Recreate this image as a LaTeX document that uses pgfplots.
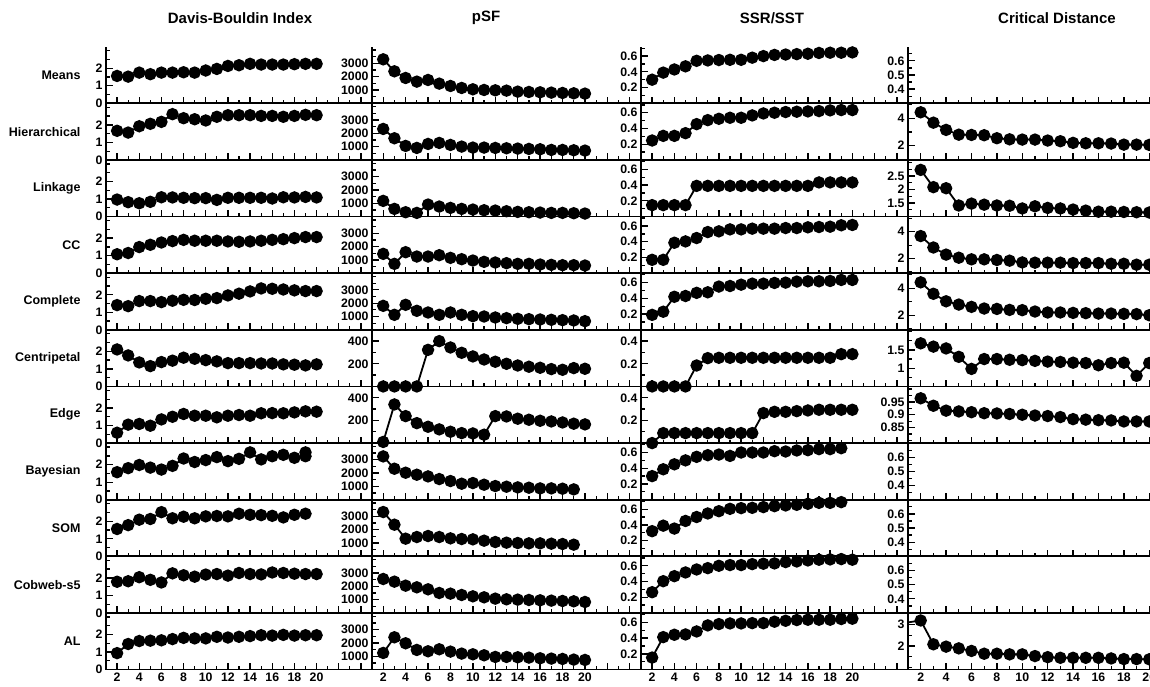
\documentclass[border=0pt]{standalone}
\usepackage{fontspec}
\setmainfont{Liberation Sans}
\usepackage{pgfplots}
\pgfplotsset{compat=1.18}
\pgfplotsset{
 base/.style={scale only axis, anchor=south west, height=56.63pt, xmin=1, xmax=25,
  axis x line*=bottom, axis y line*=left,
  axis line style={line width=1.7pt,-},
  tick align=inside,
  xtick={2,4,...,24}, minor xtick={1,3,...,25},
  xticklabel={\hbox{}},
  major tick length=6.5pt, minor tick length=3.5pt,
  every tick/.style={black,line width=1.3pt},
  tick label style={font=\fontsize{12.3}{13}\selectfont\bfseries},
  clip mode=individual,
  /pgf/number format/assume math mode=true,
 },
 bottomrow/.style={xticklabel={\ifdim\tick pt>21pt\else\pgfmathprintnumber{\tick}\fi}},
 db/.style={ymin=0,ymax=3.23,ytick={0,1,2},yticklabels={0,1,2},minor ytick={0.5,1.5,2.5,3}},
 psf/.style={ymin=0,ymax=4250,ytick={1000,2000,3000},yticklabels={1000,2000,3000},minor ytick={500,1500,2500,3500,4000}},
 psfs/.style={ymin=0,ymax=500,ytick={200,400},yticklabels={200,400},minor ytick={100,300}},
 ssr/.style={ymin=0,ymax=0.72,ytick={0.2,0.4,0.6},yticklabels={0.2,0.4,0.6},minor ytick={0.1,0.3,0.5,0.7}},
 ssrs/.style={ymin=0,ymax=0.5,ytick={0.2,0.4},yticklabels={0.2,0.4},minor ytick={0.1,0.3}},
 cde/.style={xmax=20.06,ymin=0.3,ymax=0.7,ytick={0.4,0.5,0.6},yticklabels={0.4,0.5,0.6},minor ytick={0.35,0.45,0.55,0.65}},
 cdb/.style={xmax=20.06,ymin=0.95,ymax=5.1,ytick={2,4},yticklabels={2,4},minor ytick={1,3,5}},
}
\newcommand\panel[5]{%
\begin{axis}[base, at={(#1pt,#3pt)}, width=#2pt, #4]
\addplot[black, line width=1.8pt, mark=*, mark size=5.3pt] coordinates {#5};
\end{axis}}
\newcommand\emptypanel[3]{%
\begin{axis}[base, at={(908pt,#1pt)}, width=242pt, cde, #2]
#3
\end{axis}}
\begin{document}
\begin{tikzpicture}
\useasboundingbox (0,0) rectangle (1150pt,687pt);
% titles
\node[font=\fontsize{15}{18}\selectfont\bfseries] at (240pt,669pt) {Davis-Bouldin Index};
\node[font=\fontsize{15}{18}\selectfont\bfseries] at (486pt,669pt) {pSF};
\node[font=\fontsize{15}{18}\selectfont\bfseries] at (772pt,669pt) {SSR/SST};
\node[font=\fontsize{15}{18}\selectfont\bfseries] at (1057pt,669pt) {Critical Distance};
% row labels
\foreach \lab/\yb in {Means/583.7,Hierarchical/527.07,Linkage/470.44,CC/413.81,Complete/357.18,Centripetal/300.55,Edge/243.92,Bayesian/187.29,SOM/130.66,Cobweb-s5/74.03,AL/17.4}
  \node[anchor=east,font=\fontsize{12.5}{14}\selectfont\bfseries] at (84pt,\yb pt+28.3pt) {\lab};

% ===== Row 1: Means =====
\panel{106}{266}{583.7}{db}{(2,1.56)(3,1.52)(4,1.75)(5,1.66)(6,1.75)(7,1.75)(8,1.77)(9,1.75)(10,1.87)(11,1.96)(12,2.13)(13,2.17)(14,2.25)(15,2.21)(16,2.21)(17,2.21)(18,2.23)(19,2.25)(20,2.25)}
\panel{372}{269}{583.7}{psf}{(2,3300)(3,2400)(4,1900)(5,1625)(6,1750)(7,1475)(8,1300)(9,1150)(10,1050)(11,1000)(12,975)(13,950)(14,875)(15,850)(16,825)(17,800)(18,775)(19,750)(20,725)}
\panel{641}{267}{583.7}{ssr}{(2,0.30)(3,0.39)(4,0.43)(5,0.47)(6,0.54)(7,0.545)(8,0.55)(9,0.553)(10,0.553)(11,0.58)(12,0.60)(13,0.615)(14,0.62)(15,0.625)(16,0.63)(17,0.64)(18,0.643)(19,0.643)(20,0.647)}
\emptypanel{583.7}{}{}

% ===== Row 2: Hierarchical =====
\panel{106}{266}{527.07}{db}{(2,1.66)(3,1.56)(4,1.92)(5,2.06)(6,2.17)(7,2.61)(8,2.38)(9,2.32)(10,2.25)(11,2.46)(12,2.55)(13,2.55)(14,2.55)(15,2.51)(16,2.51)(17,2.46)(18,2.51)(19,2.57)(20,2.55)}
\panel{372}{269}{527.07}{psf}{(2,2325)(3,1625)(4,1050)(5,900)(6,1200)(7,1275)(8,1125)(9,1000)(10,925)(11,925)(12,900)(13,875)(14,850)(15,825)(16,800)(17,750)(18,750)(19,725)(20,700)}
\panel{641}{267}{527.07}{ssr}{(2,0.247)(3,0.306)(4,0.306)(5,0.34)(6,0.455)(7,0.506)(8,0.523)(9,0.536)(10,0.536)(11,0.566)(12,0.591)(13,0.60)(14,0.609)(15,0.613)(16,0.617)(17,0.621)(18,0.63)(19,0.634)(20,0.634)}
\panel{908}{242}{527.07}{cdb}{(2,4.44)(3,3.68)(4,3.15)(5,2.80)(6,2.78)(7,2.76)(8,2.54)(9,2.46)(10,2.44)(11,2.44)(12,2.37)(13,2.32)(14,2.20)(15,2.17)(16,2.17)(17,2.15)(18,2.07)(19,2.07)(20,2.05)}

% ===== Row 3: Linkage =====
\panel{106}{266}{470.44}{db}{(2,0.97)(3,0.82)(4,0.76)(5,0.84)(6,1.10)(7,1.09)(8,1.07)(9,1.05)(10,1.05)(11,0.95)(12,1.07)(13,1.07)(14,1.07)(15,1.07)(16,1.03)(17,1.10)(18,1.09)(19,1.12)(20,1.09)}
\panel{372}{269}{470.44}{psf}{(2,1175)(3,575)(4,325)(5,275)(6,900)(7,750)(8,650)(9,575)(10,525)(11,475)(12,450)(13,400)(14,350)(15,325)(16,300)(17,275)(18,275)(19,250)(20,225)}
\panel{641}{267}{470.44}{ssr}{(2,0.145)(3,0.145)(4,0.145)(5,0.145)(6,0.39)(7,0.39)(8,0.39)(9,0.39)(10,0.39)(11,0.39)(12,0.39)(13,0.39)(14,0.39)(15,0.39)(16,0.39)(17,0.434)(18,0.434)(19,0.434)(20,0.434)}
\panel{908}{242}{470.44}{xmax=20.06,ymin=1.0,ymax=3.1,ytick={1.5,2,2.5},yticklabels={1.5,2,2.5},minor ytick={1.25,1.75,2.25,2.75,3}}{(2,2.73)(3,2.09)(4,2.05)(5,1.41)(6,1.48)(7,1.44)(8,1.41)(9,1.40)(10,1.30)(11,1.38)(12,1.32)(13,1.30)(14,1.26)(15,1.22)(16,1.18)(17,1.18)(18,1.17)(19,1.16)(20,1.15)}

% ===== Row 4: CC =====
\panel{106}{266}{413.81}{db}{(2,1.08)(3,1.15)(4,1.49)(5,1.62)(6,1.75)(7,1.83)(8,1.90)(9,1.85)(10,1.85)(11,1.85)(12,1.81)(13,1.79)(14,1.81)(15,1.85)(16,1.90)(17,1.94)(18,2.00)(19,2.06)(20,2.06)}
\panel{372}{269}{413.81}{psf}{(2,1450)(3,700)(4,1575)(5,1250)(6,1250)(7,1350)(8,1150)(9,1050)(10,950)(11,850)(12,800)(13,750)(14,700)(15,700)(16,650)(17,625)(18,600)(19,600)(20,575)}
\panel{641}{267}{413.81}{ssr}{(2,0.17)(3,0.17)(4,0.387)(5,0.404)(6,0.447)(7,0.523)(8,0.532)(9,0.557)(10,0.557)(11,0.566)(12,0.566)(13,0.566)(14,0.574)(15,0.574)(16,0.583)(17,0.587)(18,0.591)(19,0.609)(20,0.613)}
\panel{908}{242}{413.81}{cdb,ymin=0.92,ymax=5.13}{(2,3.68)(3,2.83)(4,2.30)(5,2.07)(6,1.95)(7,1.95)(8,1.90)(9,1.85)(10,1.72)(11,1.70)(12,1.70)(13,1.70)(14,1.67)(15,1.67)(16,1.67)(17,1.62)(18,1.62)(19,1.55)(20,1.55)}

% ===== Row 5: Complete =====
\panel{106}{266}{357.18}{db}{(2,1.41)(3,1.35)(4,1.64)(5,1.64)(6,1.58)(7,1.66)(8,1.71)(9,1.70)(10,1.77)(11,1.81)(12,1.96)(13,2.06)(14,2.19)(15,2.36)(16,2.34)(17,2.30)(18,2.25)(19,2.21)(20,2.21)}
\panel{372}{269}{357.18}{psf}{(2,1800)(3,1125)(4,1875)(5,1425)(6,1300)(7,1125)(8,1300)(9,1125)(10,1025)(11,1000)(12,925)(13,875)(14,825)(15,800)(16,775)(17,750)(18,725)(19,700)(20,650)}
\panel{641}{267}{357.18}{ssr}{(2,0.19)(3,0.23)(4,0.42)(5,0.43)(6,0.47)(7,0.477)(8,0.55)(9,0.557)(10,0.574)(11,0.587)(12,0.587)(13,0.596)(14,0.60)(15,0.613)(16,0.617)(17,0.617)(18,0.621)(19,0.634)(20,0.634)}
\panel{908}{242}{357.18}{cdb}{(2,4.43)(3,3.59)(4,3.04)(5,2.80)(6,2.63)(7,2.51)(8,2.48)(9,2.41)(10,2.39)(11,2.29)(12,2.22)(13,2.22)(14,2.19)(15,2.17)(16,2.14)(17,2.14)(18,2.12)(19,2.10)(20,2.02)}

% ===== Row 6: Centripetal =====
\panel{106}{266}{300.55}{db}{(2,2.11)(3,1.77)(4,1.37)(5,1.16)(6,1.39)(7,1.47)(8,1.64)(9,1.58)(10,1.50)(11,1.43)(12,1.33)(13,1.33)(14,1.33)(15,1.31)(16,1.31)(17,1.26)(18,1.24)(19,1.20)(20,1.26)}
\panel{372}{269}{300.55}{psfs}{(2,0)(3,0)(4,0)(5,0)(6,323)(7,400)(8,344)(9,297)(10,265)(11,238)(12,218)(13,200)(14,185)(15,174)(16,165)(17,153)(18,147)(19,162)(20,156)}
\panel{641}{267}{300.55}{ssrs}{(2,0)(3,0)(4,0)(5,0)(6,0.185)(7,0.25)(8,0.253)(9,0.253)(10,0.253)(11,0.253)(12,0.253)(13,0.253)(14,0.253)(15,0.253)(16,0.253)(17,0.253)(18,0.253)(19,0.285)(20,0.285)}
\panel{908}{242}{300.55}{xmax=20.06,ymin=0.5,ymax=2.05,ytick={1,1.5},yticklabels={1,1.5},minor ytick={0.5,0.75,1.25,1.75,2}}{(2,1.68)(3,1.59)(4,1.54)(5,1.31)(6,0.98)(7,1.25)(8,1.25)(9,1.23)(10,1.22)(11,1.20)(12,1.18)(13,1.17)(14,1.15)(15,1.14)(16,1.08)(17,1.14)(18,1.15)(19,0.79)(20,1.14)}

% ===== Row 7: Edge =====
\panel{106}{266}{243.92}{db}{(2,0.59)(3,1.05)(4,1.09)(5,0.99)(6,1.35)(7,1.50)(8,1.66)(9,1.56)(10,1.56)(11,1.47)(12,1.56)(13,1.60)(14,1.56)(15,1.70)(16,1.71)(17,1.70)(18,1.75)(19,1.81)(20,1.79)}
\panel{372}{269}{243.92}{psfs}{(2,10)(3,341)(4,238)(5,176)(6,144)(7,121)(8,100)(9,88)(10,85)(11,74)(12,238)(13,235)(14,215)(15,206)(16,197)(17,191)(18,182)(19,171)(20,165)}
\panel{641}{267}{243.92}{ssrs}{(2,0.0)(3,0.088)(4,0.088)(5,0.088)(6,0.088)(7,0.088)(8,0.088)(9,0.088)(10,0.088)(11,0.088)(12,0.265)(13,0.276)(14,0.276)(15,0.282)(16,0.288)(17,0.294)(18,0.294)(19,0.294)(20,0.294)}
\panel{908}{242}{243.92}{xmax=20.06,ymin=0.79,ymax=1.01,ytick={0.85,0.9,0.95},yticklabels={0.85,0.9,0.95},minor ytick={0.8,0.825,0.875,0.925,0.975,1.0}}{(2,0.964)(3,0.935)(4,0.916)(5,0.913)(6,0.910)(7,0.906)(8,0.905)(9,0.903)(10,0.900)(11,0.897)(12,0.895)(13,0.891)(14,0.883)(15,0.881)(16,0.879)(17,0.878)(18,0.874)(19,0.874)(20,0.874)}

% ===== Row 8: Bayesian =====
\panel{106}{266}{187.29}{db}{(2,1.57)(3,1.80)(4,1.98)(5,1.83)(6,1.72)(7,1.93)(8,2.35)(9,2.15)(10,2.26)(11,2.43)(12,2.20)(13,2.33)(14,2.70)(15,2.30)(16,2.48)(17,2.56)(18,2.39)(19,2.48)(19,2.70)}
\panel{372}{269}{187.29}{psf}{(2,3250)(3,2325)(4,2025)(5,1875)(6,1750)(7,1550)(8,1400)(9,1200)(10,1250)(11,1125)(12,1025)(13,975)(14,925)(15,900)(16,850)(17,850)(18,825)(19,775)}
\panel{641}{267}{187.29}{ssr}{(2,0.30)(3,0.387)(4,0.45)(5,0.50)(6,0.545)(7,0.566)(8,0.574)(9,0.557)(10,0.60)(11,0.60)(12,0.60)(13,0.617)(14,0.613)(15,0.626)(16,0.63)(17,0.643)(18,0.643)(19,0.655)}
\emptypanel{187.29}{}{}

% ===== Row 9: SOM =====
\panel{106}{266}{130.66}{db}{(2,1.56)(3,1.78)(4,2.09)(5,2.13)(6,2.52)(7,2.17)(8,2.26)(9,2.17)(10,2.28)(11,2.30)(12,2.28)(13,2.43)(14,2.37)(15,2.35)(16,2.31)(17,2.22)(18,2.37)(19,2.43)}
\panel{372}{269}{130.66}{psf}{(2,3325)(3,2375)(4,1325)(5,1450)(6,1525)(7,1450)(8,1350)(9,1300)(10,1275)(11,1175)(12,1075)(13,1025)(14,1000)(15,975)(16,975)(17,950)(18,925)(19,875)}
\panel{641}{267}{130.66}{ssr}{(2,0.32)(3,0.39)(4,0.353)(5,0.45)(6,0.50)(7,0.545)(8,0.574)(9,0.604)(10,0.613)(11,0.617)(12,0.626)(13,0.638)(14,0.647)(15,0.655)(16,0.668)(17,0.68)(18,0.68)(19,0.689)}
\emptypanel{130.66}{}{}

% ===== Row 10: Cobweb-s5 =====
\panel{106}{266}{74.03}{db}{(2,1.78)(3,1.81)(4,2.04)(5,1.89)(6,1.74)(7,2.26)(8,2.15)(9,2.07)(10,2.19)(11,2.22)(12,2.13)(13,2.28)(14,2.22)(15,2.20)(16,2.31)(17,2.28)(18,2.24)(19,2.22)(20,2.22)}
\panel{372}{269}{74.03}{psf}{(2,2550)(3,2350)(4,2050)(5,1925)(6,1775)(7,1500)(8,1450)(9,1350)(10,1250)(11,1175)(12,1075)(13,1025)(14,1000)(15,975)(16,950)(17,925)(18,900)(19,875)(20,825)}
\panel{641}{267}{74.03}{ssr}{(2,0.264)(3,0.404)(4,0.468)(5,0.515)(6,0.553)(7,0.57)(8,0.60)(9,0.609)(10,0.609)(11,0.621)(12,0.626)(13,0.63)(14,0.647)(15,0.655)(16,0.668)(17,0.677)(18,0.681)(19,0.685)(20,0.677)}
\emptypanel{74.03}{}{}

% ===== Row 11: AL =====
\panel{106}{266}{17.4}{db,bottomrow}{(2,0.94)(3,1.46)(4,1.63)(5,1.65)(6,1.67)(7,1.74)(8,1.81)(9,1.78)(10,1.78)(11,1.87)(12,1.83)(13,1.87)(14,1.91)(15,1.96)(16,1.94)(17,1.98)(18,1.94)(19,1.96)(20,1.96)}
\panel{372}{269}{17.4}{psf,bottomrow}{(2,1250)(3,2425)(4,1975)(5,1475)(6,1375)(7,1525)(8,1350)(9,1200)(10,1150)(11,1075)(12,950)(13,950)(14,925)(15,900)(16,850)(17,825)(18,800)(19,750)(20,725)}
\panel{641}{267}{17.4}{ssr,bottomrow}{(2,0.153)(3,0.413)(4,0.443)(5,0.447)(6,0.485)(7,0.562)(8,0.579)(9,0.587)(10,0.587)(11,0.591)(12,0.591)(13,0.609)(14,0.621)(15,0.63)(16,0.634)(17,0.634)(18,0.634)(19,0.643)(20,0.647)}
\begin{axis}[base, at={(908pt,17.4pt)}, width=242pt, bottomrow, xmax=20.06, ymin=0.9, ymax=3.54, ytick={2,3}, yticklabels={2,3}, minor ytick={1,1.5,2.5,3.5}]
\addplot[black, line width=1.8pt, no marks] coordinates {(1,3.1)(2,3.19)};
\addplot[black, line width=1.8pt, mark=*, mark size=5.3pt] coordinates {(2,3.19)(3,2.08)(4,1.97)(5,1.89)(6,1.77)(7,1.64)(8,1.64)(9,1.61)(10,1.61)(11,1.53)(12,1.48)(13,1.45)(14,1.45)(15,1.45)(16,1.45)(17,1.42)(18,1.39)(19,1.39)(20,1.38)};
\end{axis}
\end{tikzpicture}
\end{document}
